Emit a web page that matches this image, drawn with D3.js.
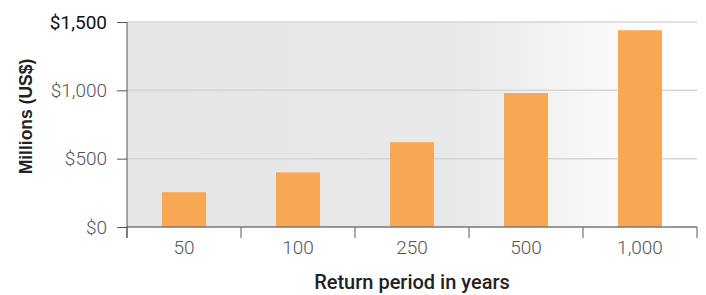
<!DOCTYPE html>
<html>
<head>
<meta charset="utf-8">
<script src="https://cdn.jsdelivr.net/npm/d3@7"></script>
<style>
  body { margin: 0; background: #fff; }
  .tick text { font-family: Roboto, sans-serif; font-weight: 300; fill: #555; }
  .axis-title { font-weight: bold; fill: #222; }
</style>
</head>
<body>
<svg id="chart" width="706" height="295"></svg>
<script>
//chart data
var periods = ['50', '100', '250', '500', '1,000'];
var losses = [255, 400, 620, 980, 1440];
var yTicks = [0, 500, 1000, 1500];

var margin = {top: 22, right: 9, bottom: 68, left: 127};
var width = 706 - margin.left - margin.right;
var height = 295 - margin.top - margin.bottom;

var svg = d3.select('#chart');

//background gradient
var defs = svg.append('defs');
var grad = defs.append('linearGradient')
  .attr('id', 'bg-grad')
  .attr('x1', '0%').attr('x2', '100%')
  .attr('y1', '0%').attr('y2', '0%');
grad.append('stop').attr('offset', '0%').attr('stop-color', '#e6e6e6');
grad.append('stop').attr('offset', '58%').attr('stop-color', '#e8e8e8');
grad.append('stop').attr('offset', '93%').attr('stop-color', '#ffffff');

var g = svg.append('g')
  .attr('transform', 'translate(' + margin.left + ',' + margin.top + ')');

//scales
var x = d3.scaleBand().domain(periods).range([0, width]).padding(0);
var xBar = d3.scaleBand().domain(periods).range([0, width])
  .paddingInner(0.614).paddingOuter(0.307);
var y = d3.scaleLinear().domain([0, 1500]).range([height, 0]);

g.append('rect')
  .attr('width', width)
  .attr('height', height)
  .attr('fill', 'url(#bg-grad)');

//gridlines
g.selectAll('.grid')
  .data(yTicks.filter(function(d) { return d > 0; }))
  .enter().append('line')
  .attr('class', 'grid')
  .attr('x1', 0).attr('x2', width)
  .attr('y1', function(d) { return y(d); })
  .attr('y2', function(d) { return y(d); })
  .attr('stroke', '#d6d6d6')
  .attr('stroke-width', 1.5);

//bars
g.selectAll('.bar')
  .data(losses)
  .enter().append('rect')
  .attr('class', 'bar')
  .attr('x', function(d, i) { return xBar(periods[i]); })
  .attr('width', xBar.bandwidth())
  .attr('y', function(d) { return y(d); })
  .attr('height', function(d) { return height - y(d); })
  .attr('fill', '#f8a753');

//y axis
var yAxis = g.append('g')
  .call(d3.axisLeft(y).tickValues(yTicks).tickSize(10).tickPadding(10)
    .tickFormat(function(d) { return '$' + d3.format(',')(d); }));
yAxis.select('.domain').remove();
yAxis.selectAll('.tick line').attr('stroke', '#555');
yAxis.selectAll('.tick text').style('font-size', '19px');
yAxis.selectAll('.tick').filter(function(d) { return d == 1500; })
  .select('text').style('fill', '#111').style('font-weight', 400);

//x axis
var xAxis = g.append('g')
  .attr('transform', 'translate(0,' + height + ')')
  .call(d3.axisBottom(x).tickSize(0).tickPadding(14));
xAxis.select('.domain').remove();
xAxis.selectAll('.tick text').style('font-size', '19px');

var edges = d3.range(periods.length + 1).map(function(i) { return i * x.step(); });
xAxis.selectAll('.edge')
  .data(edges)
  .enter().append('line')
  .attr('class', 'edge')
  .attr('x1', function(d) { return d; }).attr('x2', function(d) { return d; })
  .attr('y1', 0).attr('y2', 11)
  .attr('stroke', '#555');

//axis lines
g.append('line')
  .attr('x1', 0).attr('x2', width)
  .attr('y1', height).attr('y2', height)
  .attr('stroke', '#777').attr('stroke-width', 1.5);
g.append('line')
  .attr('x1', 0).attr('x2', 0)
  .attr('y1', 0).attr('y2', height + 11)
  .attr('stroke', '#555');

//axis titles
svg.append('text')
  .attr('class', 'axis-title')
  .attr('transform', 'translate(32,' + (margin.top + height / 2 - 8) + ') rotate(-90)')
  .attr('text-anchor', 'middle')
  .style('font-family', 'Liberation Sans, Arial, sans-serif')
  .style('font-size', '17.5px')
  .text('Millions (US$)');

svg.append('text')
  .attr('class', 'axis-title')
  .attr('x', 412)
  .attr('y', 289)
  .attr('text-anchor', 'middle')
  .style('font-family', 'Roboto, sans-serif')
  .style('font-weight', 500)
  .style('font-size', '20px')
  .text('Return period in years');
</script>
</body>
</html>
